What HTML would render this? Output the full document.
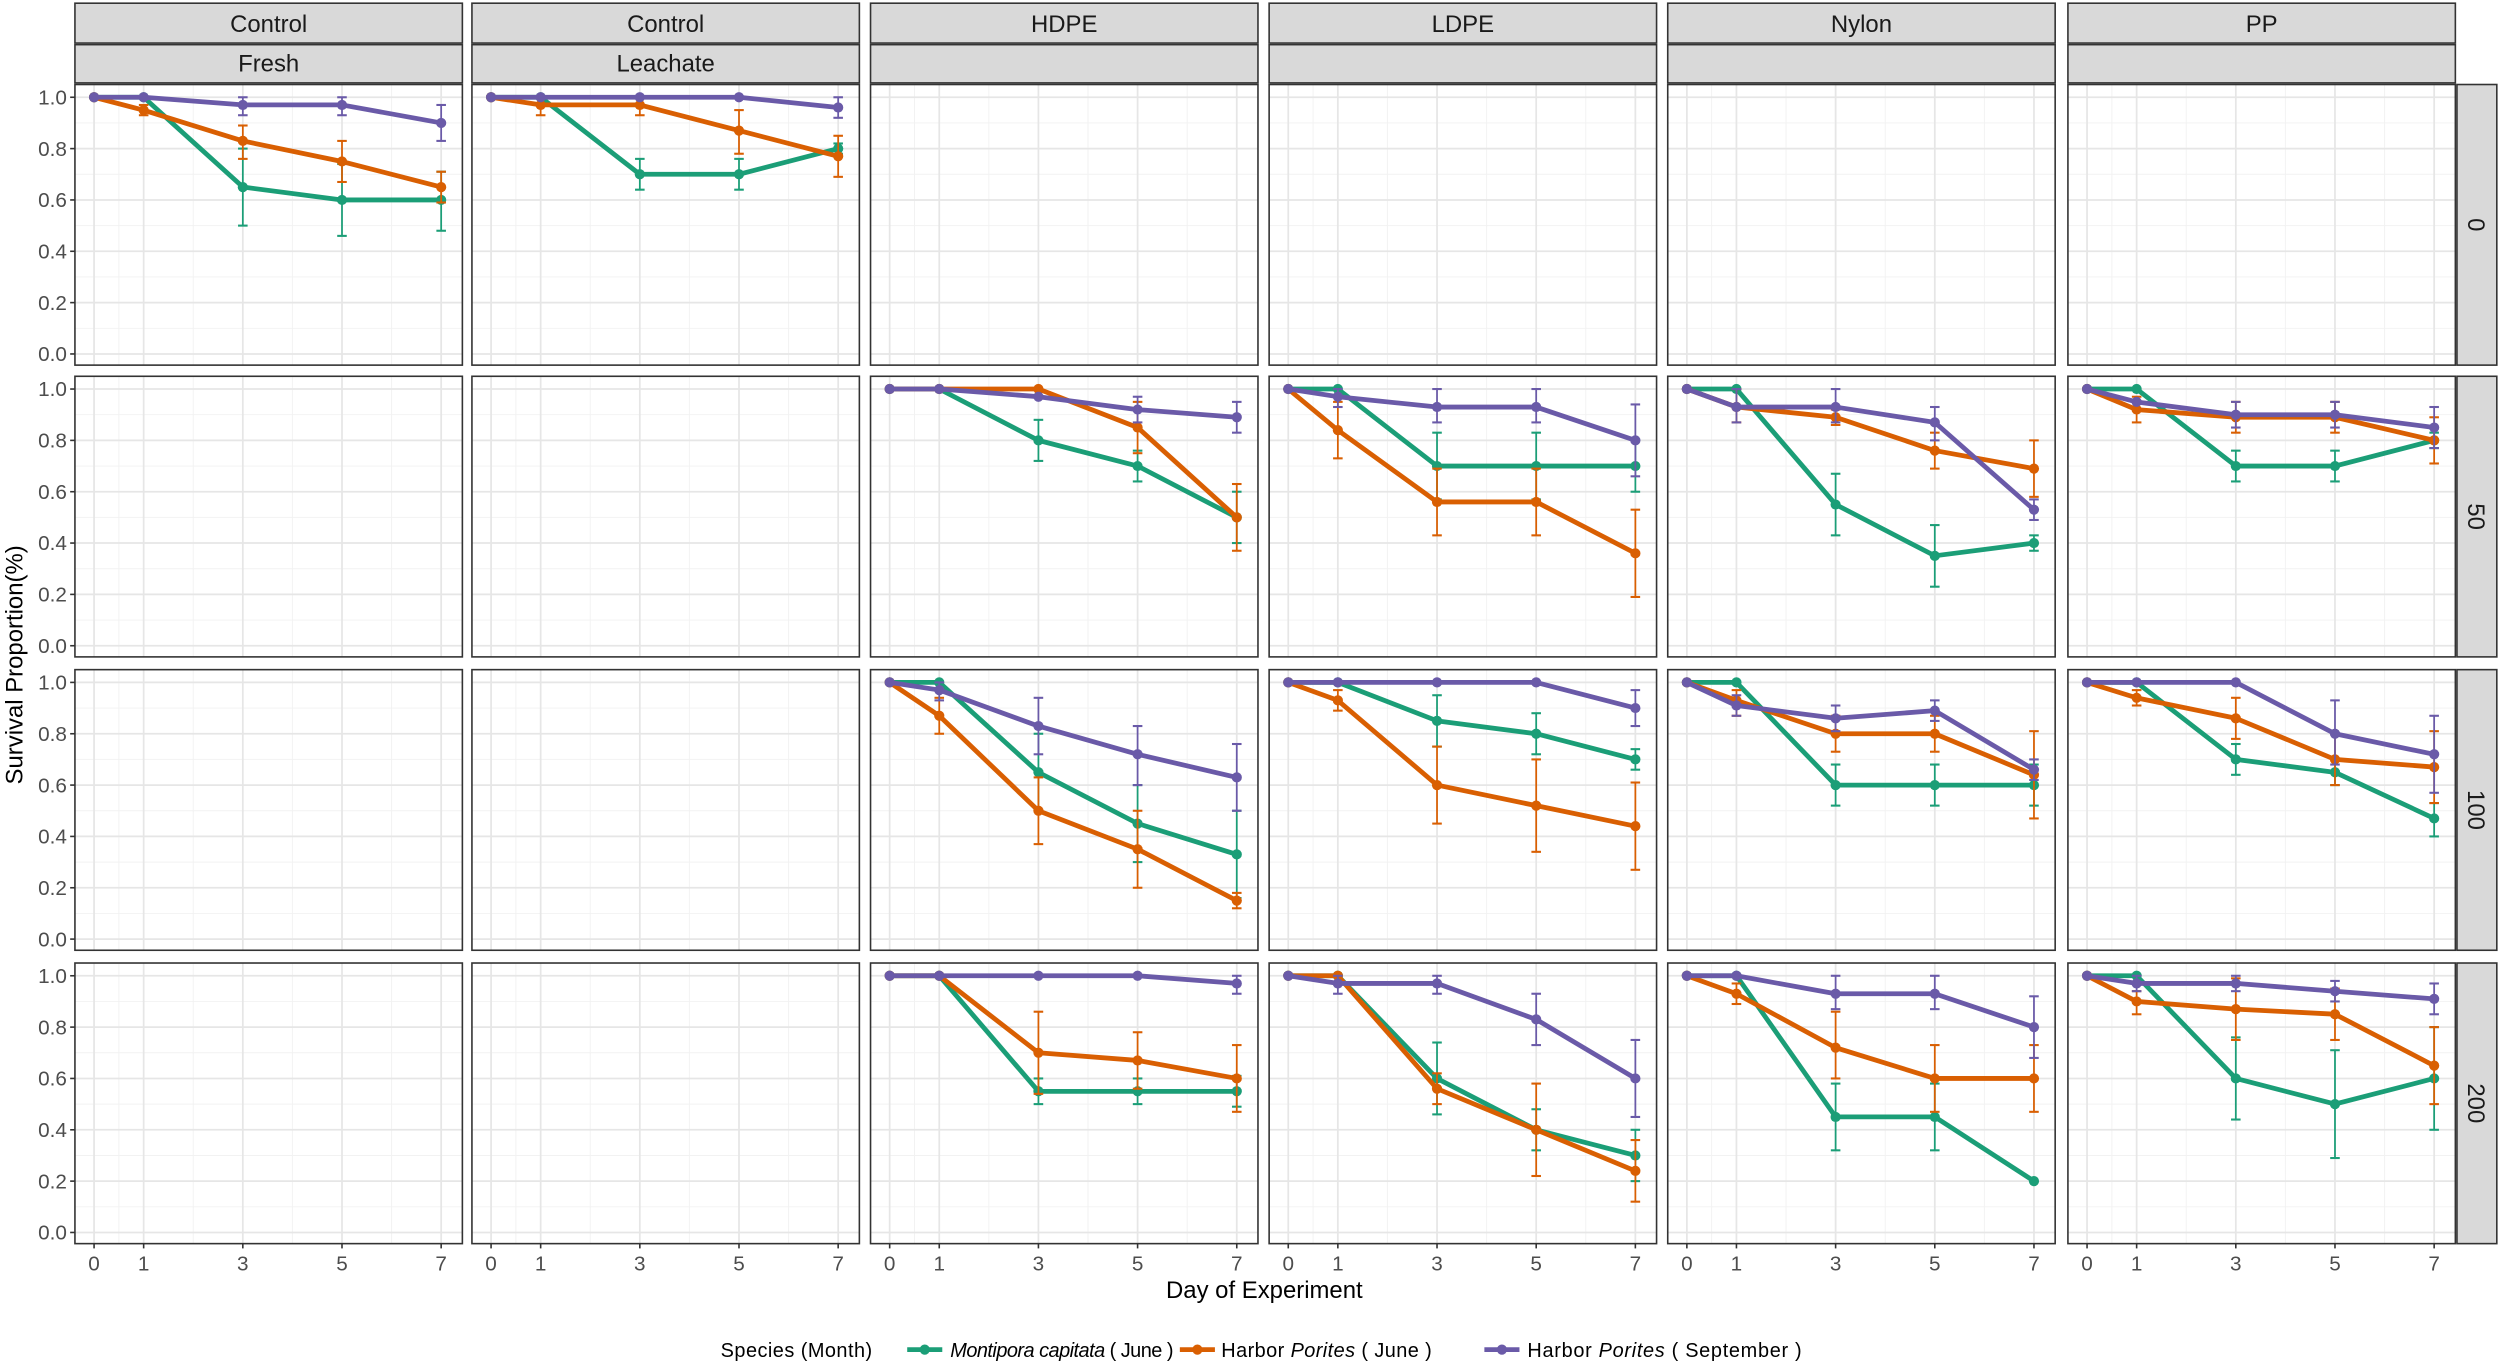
<!DOCTYPE html>
<html><head><meta charset="utf-8"><style>
html,body{margin:0;padding:0;background:#fff;}
svg{display:block;font-family:"Liberation Sans",sans-serif;}
</style></head><body>
<svg id="s" width="2500" height="1368" viewBox="0 0 1568 858" xmlns="http://www.w3.org/2000/svg">
<rect width="1568" height="858" fill="#fff"/>
<text x="793" y="814" font-size="15" text-anchor="middle" fill="#000">Day of Experiment</text>
<text transform="translate(14,417) rotate(-90)" font-size="15" text-anchor="middle" fill="#000">Survival Proportion(%)</text>
<text x="452" y="851" font-size="12.5" fill="#000" textLength="95" lengthAdjust="spacing">Species (Month)</text>
<line x1="569" y1="846.5" x2="591" y2="846.5" stroke="#1b9e77" stroke-width="3"/><circle cx="580" cy="846.5" r="3.2" fill="#1b9e77"/>
<text x="596" y="851" font-size="12.5" fill="#000" textLength="140" lengthAdjust="spacing"><tspan font-style="italic">Montipora capitata</tspan> ( June )</text>
<line x1="740" y1="846.5" x2="762" y2="846.5" stroke="#d95f02" stroke-width="3"/><circle cx="751" cy="846.5" r="3.2" fill="#d95f02"/>
<text x="766" y="851" font-size="12.5" fill="#000" textLength="132" lengthAdjust="spacing">Harbor <tspan font-style="italic">Porites</tspan> ( June )</text>
<line x1="931" y1="846.5" x2="953" y2="846.5" stroke="#6a5aa8" stroke-width="3"/><circle cx="942" cy="846.5" r="3.2" fill="#6a5aa8"/>
<text x="958" y="851" font-size="12.5" fill="#000" textLength="172" lengthAdjust="spacing">Harbor <tspan font-style="italic">Porites</tspan> ( September )</text>
<g id="g"></g>
</svg>
<script>
var NS="http://www.w3.org/2000/svg",g=document.getElementById("g");
function el(t,a,txt){var e=document.createElementNS(NS,t);for(var k in a)e.setAttribute(k,a[k]);if(txt!=null)e.textContent=txt;g.appendChild(e);return e;}
var L=[47,296,546,796,1046,1297],W=243,T=[53,236,420,604],H=176,D=[0,1,3,5,7];
var C=["#1b9e77","#d95f02","#6a5aa8"];
function X(c,d){return L[c]+12+d*31.1;}
function Y(r,v){return T[r]+8+(1-v)*161;}
var N=null;
var data={
"0,0":[[[1,1,.65,.6,.6],[N,N,[.5,.8],[.46,.74],[.48,.71]]],[[1,.95,.83,.75,.65],[N,[.93,.97],[.76,.89],[.67,.83],[.59,.71]]],[[1,1,.97,.97,.9],[N,N,[.93,1],[.93,1],[.83,.97]]]],
"0,1":[[[1,1,.7,.7,.8],[N,N,[.64,.76],[.64,.76],[.78,.82]]],[[1,.97,.97,.87,.77],[N,[.93,1],[.93,1],[.78,.95],[.69,.85]]],[[1,1,1,1,.96],[N,N,N,N,[.92,1]]]],
"1,2":[[[1,1,.8,.7,.5],[N,N,[.72,.88],[.64,.76],[.4,.6]]],[[1,1,1,.85,.5],[N,N,N,[.75,.95],[.37,.63]]],[[1,1,.97,.92,.89],[N,N,N,[.87,.97],[.83,.95]]]],
"1,3":[[[1,1,.7,.7,.7],[N,N,[.57,.83],[.57,.83],[.6,.8]]],[[1,.84,.56,.56,.36],[N,[.73,.95],[.43,.69],[.43,.69],[.19,.53]]],[[1,.97,.93,.93,.8],[N,[.93,1],[.87,1],[.87,1],[.66,.94]]]],
"1,4":[[[1,1,.55,.35,.4],[N,N,[.43,.67],[.23,.47],[.37,.43]]],[[1,.93,.89,.76,.69],[N,[.87,1],[.86,.92],[.69,.83],[.58,.8]]],[[1,.93,.93,.87,.53],[N,[.87,1],[.87,1],[.8,.93],[.49,.57]]]],
"1,5":[[[1,1,.7,.7,.8],[N,N,[.64,.76],[.64,.76],[.77,.83]]],[[1,.92,.89,.89,.8],[N,[.87,.97],[.83,.95],[.83,.95],[.71,.89]]],[[1,.95,.9,.9,.85],[N,N,[.85,.95],[.85,.95],[.77,.93]]]],
"2,2":[[[1,1,.65,.45,.33],[N,N,[.5,.8],[.3,.6],[.16,.5]]],[[1,.87,.5,.35,.15],[N,[.8,.94],[.37,.63],[.2,.5],[.12,.18]]],[[1,.97,.83,.72,.63],[N,[.93,1],[.72,.94],[.6,.83],[.5,.76]]]],
"2,3":[[[1,1,.85,.8,.7],[N,N,[.75,.95],[.72,.88],[.66,.74]]],[[1,.93,.6,.52,.44],[N,[.89,.97],[.45,.75],[.34,.7],[.27,.61]]],[[1,1,1,1,.9],[N,N,N,N,[.83,.97]]]],
"2,4":[[[1,1,.6,.6,.6],[N,N,[.52,.68],[.52,.68],[.52,.68]]],[[1,.93,.8,.8,.64],[N,[.87,.97],[.73,.87],[.73,.87],[.47,.81]]],[[1,.91,.86,.89,.66],[N,[.87,.95],[.81,.91],[.85,.93],[.62,.7]]]],
"2,5":[[[1,1,.7,.65,.47],[N,N,[.64,.76],[.6,.7],[.4,.53]]],[[1,.94,.86,.7,.67],[N,[.91,.97],[.78,.94],[.6,.8],[.53,.81]]],[[1,1,1,.8,.72],[N,N,N,[.68,.93],[.57,.87]]]],
"3,2":[[[1,1,.55,.55,.55],[N,N,[.5,.6],[.5,.6],[.49,.61]]],[[1,1,.7,.67,.6],[N,N,[.54,.86],[.56,.78],[.47,.73]]],[[1,1,1,1,.97],[N,N,N,N,[.93,1]]]],
"3,3":[[[1,1,.6,.4,.3],[N,N,[.46,.74],[.32,.48],[.2,.4]]],[[1,1,.56,.4,.24],[N,N,[.5,.62],[.22,.58],[.12,.36]]],[[1,.97,.97,.83,.6],[N,[.93,1],[.93,1],[.73,.93],[.45,.75]]]],
"3,4":[[[1,1,.45,.45,.2],[N,N,[.32,.58],[.32,.58],N]],[[1,.93,.72,.6,.6],[N,[.89,.97],[.6,.86],[.47,.73],[.47,.73]]],[[1,1,.93,.93,.8],[N,N,[.87,1],[.87,1],[.68,.92]]]],
"3,5":[[[1,1,.6,.5,.6],[N,N,[.44,.76],[.29,.71],[.4,.8]]],[[1,.9,.87,.85,.65],[N,[.85,.94],[.75,.99],[.75,.95],[.5,.8]]],[[1,.97,.97,.94,.91],[N,[.94,1],[.94,1],[.9,.98],[.85,.97]]]]
};
var rowlab=["0","50","100","200"],top1=["Control","Control","HDPE","LDPE","Nylon","PP"],top2=["Fresh","Leachate","","","",""];
for(var c=0;c<6;c++){
 el("rect",{x:L[c],y:2,width:W,height:25,fill:"#d9d9d9",stroke:"#333","stroke-width":1});
 el("text",{x:L[c]+W/2,y:20,"font-size":15,"text-anchor":"middle",fill:"#1a1a1a"},top1[c]);
 el("rect",{x:L[c],y:28,width:W,height:24,fill:"#d9d9d9",stroke:"#333","stroke-width":1});
 if(top2[c])el("text",{x:L[c]+W/2,y:45,"font-size":15,"text-anchor":"middle",fill:"#1a1a1a"},top2[c]);
 for(var i=0;i<5;i++)el("text",{x:X(c,D[i]),y:797,"font-size":13,"text-anchor":"middle",fill:"#4d4d4d"},String(D[i]));
}
for(var r=0;r<4;r++){
 el("rect",{x:1541,y:T[r],width:25,height:H,fill:"#d9d9d9",stroke:"#333","stroke-width":1});
 el("text",{transform:"translate(1548,"+(T[r]+H/2)+") rotate(90)","font-size":15,"text-anchor":"middle",fill:"#1a1a1a"},rowlab[r]);
 for(var k=0;k<=5;k++){var v=k/5;el("text",{x:42,y:Y(r,v)+4.5,"font-size":13,"text-anchor":"end",fill:"#4d4d4d"},v.toFixed(1));
  el("line",{x1:44,x2:47,y1:Y(r,v),y2:Y(r,v),stroke:"#333","stroke-width":1});}
 for(var c=0;c<6;c++){
  var x0=L[c],y0=T[r];
  el("rect",{x:x0,y:y0,width:W,height:H,fill:"#fff"});
  for(var k=1;k<10;k+=2)el("line",{x1:x0,x2:x0+W,y1:Y(r,k/10),y2:Y(r,k/10),stroke:"#f2f2f2","stroke-width":0.6});
  [0.5,2,4,6].forEach(function(d){el("line",{x1:X(c,d),x2:X(c,d),y1:y0,y2:y0+H,stroke:"#f2f2f2","stroke-width":0.6});});
  for(var k=0;k<=5;k++)el("line",{x1:x0,x2:x0+W,y1:Y(r,k/5),y2:Y(r,k/5),stroke:"#e6e6e6","stroke-width":1.1});
  D.forEach(function(d){el("line",{x1:X(c,d),x2:X(c,d),y1:y0,y2:y0+H,stroke:"#e6e6e6","stroke-width":1.1});});
  if(r==3)D.forEach(function(d){el("line",{x1:X(c,d),x2:X(c,d),y1:y0+H,y2:y0+H+3,stroke:"#333","stroke-width":1});});
  var dd=data[r+","+c];
  if(dd){for(var s=0;s<3;s++){var vals=dd[s][0],er=dd[s][1],col=C[s];
    for(var i=0;i<5;i++)if(er[i]){var xx=X(c,D[i]);
      el("line",{x1:xx,x2:xx,y1:Y(r,er[i][0]),y2:Y(r,er[i][1]),stroke:col,"stroke-width":1.1});
      el("line",{x1:xx-3,x2:xx+3,y1:Y(r,er[i][0]),y2:Y(r,er[i][0]),stroke:col,"stroke-width":1.3});
      el("line",{x1:xx-3,x2:xx+3,y1:Y(r,er[i][1]),y2:Y(r,er[i][1]),stroke:col,"stroke-width":1.3});}
    var p="";for(var i=0;i<5;i++)p+=(i?"L":"M")+X(c,D[i]).toFixed(1)+","+Y(r,vals[i]).toFixed(1);
    el("path",{d:p,fill:"none",stroke:col,"stroke-width":3,"stroke-linejoin":"round"});
    for(var i=0;i<5;i++)el("circle",{cx:X(c,D[i]),cy:Y(r,vals[i]),r:3.2,fill:col});
  }}
  el("rect",{x:x0,y:y0,width:W,height:H,fill:"none",stroke:"#333","stroke-width":1});
 }
}
</script>
</body></html>
